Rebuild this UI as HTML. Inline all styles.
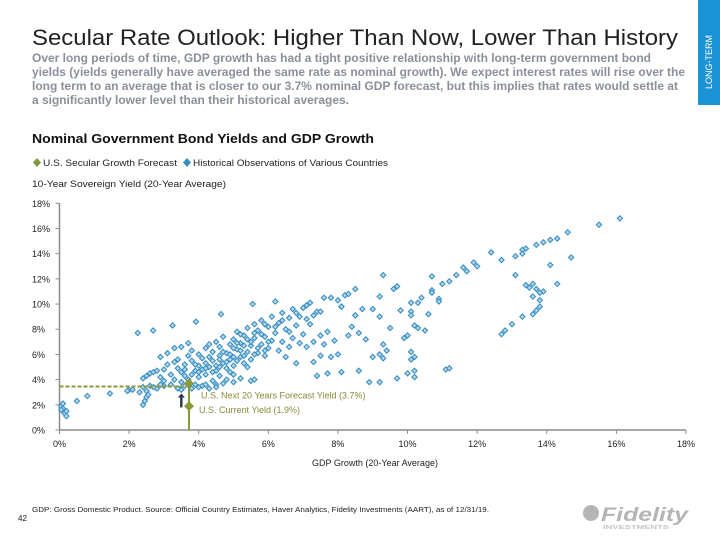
<!DOCTYPE html>
<html><head><meta charset="utf-8"><style>
html,body{margin:0;padding:0;background:#fff;}
svg{display:block;font-family:"Liberation Sans",sans-serif;}
</style></head><body>
<svg id="page" width="720" height="540" viewBox="0 0 720 540">
  <rect x="698" y="0" width="22" height="105" fill="#1a93d6"/>
  <text x="712" y="62" transform="rotate(-90 712 62)" text-anchor="middle" font-size="9" fill="#fff">LONG-TERM</text>

  <text x="32" y="45" font-size="22" fill="#222" textLength="646" lengthAdjust="spacingAndGlyphs">Secular Rate Outlook: Higher Than Now, Lower Than History</text>
  <g font-size="11.5" font-weight="bold" fill="#8a909a">
    <text x="32" y="62" textLength="619" lengthAdjust="spacingAndGlyphs">Over long periods of time, GDP growth has had a tight positive relationship with long-term government bond</text>
    <text x="32" y="76" textLength="653" lengthAdjust="spacingAndGlyphs">yields (yields generally have averaged the same rate as nominal growth). We expect interest rates will rise over the</text>
    <text x="32" y="90" textLength="646" lengthAdjust="spacingAndGlyphs">long term to an average that is closer to our 3.7% nominal GDP forecast, but this implies that rates would settle at</text>
    <text x="32" y="104" textLength="317" lengthAdjust="spacingAndGlyphs">a significantly lower level than their historical averages.</text>
  </g>

  <text x="32" y="143" font-size="13" font-weight="bold" fill="#111" textLength="342" lengthAdjust="spacingAndGlyphs">Nominal Government Bond Yields and GDP Growth</text>

  <g font-size="9" fill="#222">
    <path d="M37 158 L41 162.5 L37 167 L33 162.5Z" fill="#7f9a3a"/>
    <text x="43" y="166" textLength="134" lengthAdjust="spacingAndGlyphs">U.S. Secular Growth Forecast</text>
    <path d="M187 158 L191 162.5 L187 167 L183 162.5Z" fill="#3a8fc4"/>
    <text x="193" y="166" textLength="195" lengthAdjust="spacingAndGlyphs">Historical Observations of Various Countries</text>
  </g>
  <text x="32" y="187" font-size="9" fill="#222" textLength="194" lengthAdjust="spacingAndGlyphs">10-Year Sovereign Yield (20-Year Average)</text>
  <text x="375" y="466" font-size="9" fill="#222" text-anchor="middle">GDP Growth (20-Year Average)</text>

  <g id="axes"></g>
  <g id="points"></g>
  <g id="annot"></g>

  <text x="32" y="512" font-size="7.5" fill="#222" textLength="457" lengthAdjust="spacingAndGlyphs">GDP: Gross Domestic Product. Source: Official Country Estimates, Haver Analytics, Fidelity Investments (AART), as of 12/31/19.</text>
  <text x="18" y="521" font-size="8" fill="#222">42</text>
  <g>
    <circle cx="591" cy="513" r="8" fill="#b5b5b5"/>
    <text x="601" y="521" font-size="19" font-weight="bold" font-style="italic" fill="#b5b5b5" textLength="87" lengthAdjust="spacingAndGlyphs">Fidelity</text>
    <text x="603" y="529" font-size="5" font-weight="bold" fill="#c5c5c5" textLength="66" lengthAdjust="spacingAndGlyphs">INVESTMENTS</text>
  </g>
</svg>
<script>
const xTicks = [0,2,4,6,8,10,12,14,16,18];
const yTicks = [0,2,4,6,8,10,12,14,16,18];
const histGdp = [16.1,15.5,14.6,14.3,14.1,13.9,13.7,13.4,13.3,13.3,13.1,12.7,12.4,11.9,12.0,11.6,11.7,11.4,11.2,11.0,10.7,10.7,10.7,10.9,10.9,10.6,10.4,10.3,10.1,10.1,10.1,10.2,10.3,10.5,10.0,9.9,9.8,9.6,9.7,9.3,9.2,9.2,9.5,9.3,9.4,9.2,9.3,9.0,10.1,10.2,10.1,10.2,10.0,10.2,9.7,9.2,8.9,11.1,11.2,
14.7,14.1,13.1,13.6,13.4,13.5,13.7,13.9,13.8,13.6,13.8,13.8,13.7,13.6,14.3,13.3,13.0,12.8,12.7,
2.3,2.4,2.4,2.45,2.5,2.5,2.55,2.6,2.4,2.5,2.6,2.7,2.8,2.9,3.0,3.0,3.1,3.2,3.3,3.3,3.4,3.4,3.5,3.5,3.6,3.6,3.7,3.7,3.8,3.8,3.9,3.9,4.0,4.0,4.0,4.1,4.1,4.2,4.2,4.3,4.3,4.4,4.4,4.4,4.5,4.5,4.5,4.6,4.6,4.6,4.7,4.7,4.8,4.8,4.8,4.9,4.9,5.0,5.0,5.0,5.1,5.1,5.2,5.2,5.3,5.3,5.4,5.4,5.5,5.5,5.6,5.6,5.7,5.7,5.8,5.8,5.9,5.9,6.0,6.0,6.1,6.1,6.2,6.2,6.3,6.3,6.4,6.4,6.5,6.5,6.6,6.6,6.7,6.7,6.8,6.8,6.9,6.9,7.0,7.0,7.1,7.1,7.2,7.2,7.3,7.3,7.4,7.4,7.5,7.5,7.6,7.6,7.7,7.7,7.8,7.8,7.9,8.0,8.0,8.1,8.1,8.2,8.3,8.3,8.4,8.5,8.5,8.6,8.6,8.7,8.8,
3.4,3.5,3.6,3.8,4.0,4.2,4.3,4.5,4.7,5.0,5.2,5.5,5.6,3.2,3.0,2.9,2.8,2.7,2.0,1.95,2.1,
4.1,4.2,4.3,4.5,4.6,4.7,4.8,4.9,5.0,5.1,5.2,5.3,5.4,5.5,5.6,5.7,5.8,5.9,6.0,3.6,3.8,3.9,4.0,4.2,4.4,5.0,5.1,4.9,4.6,5.3,5.6,5.4,5.2,6.2,6.4,6.6,5.9,6.8,7.1,7.3,
0.05,0.1,0.1,0.15,0.2,0.2,0.05,0.5,0.8,1.45,2.25,2.69,3.25,3.92,4.64,5.55,7.5,8.1,8.5,9.0,3.1,2.9,3.3,3.5,3.7];
const histYield = [16.8,16.3,15.7,15.2,15.1,14.9,14.7,14.4,14.3,14.0,13.8,13.5,14.1,13.3,13.0,12.9,12.6,12.3,11.8,11.6,12.2,11.1,10.9,10.4,10.2,9.2,10.5,10.1,10.1,9.4,9.1,8.3,8.1,7.9,7.5,7.3,9.5,11.2,11.4,12.3,10.6,9.0,8.1,6.8,6.3,6.0,5.7,5.8,6.2,5.8,5.6,4.7,4.5,4.2,4.1,3.8,3.8,4.8,4.9,
13.7,13.1,12.3,11.6,11.5,11.3,11.2,11.0,10.9,10.6,10.3,9.8,9.5,9.2,11.6,9.0,8.4,7.9,7.6,
3.0,3.4,2.0,2.3,2.6,3.1,2.8,3.5,4.1,4.3,4.5,4.6,4.7,4.2,3.9,4.8,5.2,4.4,4.0,5.4,5.6,4.9,4.6,3.8,5.2,4.3,4.0,5.9,6.3,5.5,4.7,3.6,5.1,6.0,4.2,3.5,5.7,6.5,4.4,5.0,6.8,3.9,5.5,6.2,4.7,7.0,3.6,5.9,6.6,4.3,5.3,7.4,6.1,4.9,4.0,6.8,5.6,7.2,5.1,4.4,6.4,7.8,5.8,6.9,5.3,7.5,6.2,8.1,6.7,5.6,7.3,8.4,6.1,7.9,8.7,6.8,7.4,5.9,8.2,6.5,7.1,9.0,7.7,10.2,8.5,6.3,9.3,7.0,8.0,5.8,8.9,6.6,9.6,7.3,8.3,5.3,9.0,6.9,9.7,7.6,9.9,6.6,10.1,8.4,7.0,5.4,9.4,4.3,7.5,5.9,10.5,6.8,7.8,4.5,10.5,5.8,7.1,10.3,6.0,9.8,4.6,10.7,7.5,10.8,8.2,11.2,9.1,4.7,7.7,9.6,7.2,
3.3,3.2,3.5,3.3,3.4,3.6,3.3,3.4,3.7,3.8,4.1,3.9,4.0,3.6,3.5,3.6,3.3,3.4,3.2,3.1,3.2,
4.8,5.3,5.8,5.1,5.6,6.2,5.4,6.0,6.5,5.5,6.3,6.7,5.0,7.0,6.0,6.5,7.6,6.3,7.0,4.8,4.4,5.2,4.6,4.9,4.6,5.8,6.9,4.6,5.0,5.9,7.7,7.2,7.6,8.2,8.7,7.8,8.4,9.3,8.8,9.1,
1.9,1.7,2.1,1.3,1.5,1.1,1.6,2.3,2.7,2.9,7.7,7.9,8.3,8.6,9.2,10.0,9.4,9.8,9.1,9.6,6.1,5.8,6.5,6.6,6.9];
const forecastGdp = [3.72];
const forecastYield = [3.7];
const currentYield = [1.9];
const dashedYield = [3.45];
const arrowFrom = [1.8], arrowTo = [2.9], arrowGdp = [3.5];

const NS = 'http://www.w3.org/2000/svg';
const X0 = 59.5, X1 = 686, Y0 = 430, Y1 = 203.3, MAXV = 18;
function xs(v){ return X0 + v*(X1-X0)/MAXV; }
function ys(v){ return Y0 - v*(Y0-Y1)/MAXV; }
function mk(tag, attrs, parent){ const e=document.createElementNS(NS,tag); for(const k in attrs) e.setAttribute(k,attrs[k]); parent.appendChild(e); return e; }

const axes = document.getElementById('axes');
let yl = mk('line',{x1:X0,y1:Y1,x2:X0,y2:Y0,stroke:'#8c8c8c','stroke-width':1.5},axes);


let xl = mk('line',{x1:X0,y1:Y0,x2:X1,y2:Y0,stroke:'#8c8c8c','stroke-width':1.5},axes);


yTicks.forEach(v=>{
  mk('line',{x1:X0-4,y1:ys(v),x2:X0,y2:ys(v),stroke:'#8c8c8c'},axes);
  const t = mk('text',{x:32,y:ys(v)+3.5,'font-size':9,fill:'#222'},axes);
  t.textContent = v+'%';
  
  
});
xTicks.forEach(v=>{
  mk('line',{x1:xs(v),y1:Y0,x2:xs(v),y2:Y0+4,stroke:'#8c8c8c'},axes);
  const t = mk('text',{x:xs(v),y:447,'font-size':9,fill:'#222','text-anchor':'middle'},axes);
  t.textContent = v+'%';
  
  
});

const pts = document.getElementById('points');
const n = Math.min(histGdp.length, histYield.length);
for(let i=0;i<n;i++){
  const cx=xs(histGdp[i]), cy=ys(histYield[i]);
  const p = mk('path',{d:`M${cx} ${cy-2.6}L${cx+2.6} ${cy}L${cx} ${cy+2.6}L${cx-2.6} ${cy}Z`,fill:'#b9d9ec',stroke:'#3a8fc4','stroke-width':1.1},pts);
  
  
}

const an = document.getElementById('annot');
const fx = xs(forecastGdp[0]);
let dl = mk('line',{x1:X0,y1:ys(dashedYield[0]),x2:fx,y2:ys(dashedYield[0]),stroke:'#8a9a3a','stroke-width':2,'stroke-dasharray':'4,2'},an);


let vl = mk('line',{x1:fx,y1:ys(forecastYield[0]),x2:fx,y2:Y0,stroke:'#7f9a3a','stroke-width':2},an);


const ax = xs(arrowGdp[0]);
let ar = mk('path',{d:`M${ax-1.2} ${ys(arrowFrom[0])}V${ys(arrowTo[0])+4}H${ax-3.5}L${ax} ${ys(arrowTo[0])}L${ax+3.5} ${ys(arrowTo[0])+4}H${ax+1.2}V${ys(arrowFrom[0])}Z`,fill:'#2b3440'},an);


[[forecastYield[0],'forecast-point'],[currentYield[0],'current-point']].forEach(([v,name])=>{
  const cy=ys(v);
  const d = mk('path',{d:`M${fx} ${cy-5}L${fx+5} ${cy}L${fx} ${cy+5}L${fx-5} ${cy}Z`,fill:'#8a9a3a'},an);
  
  
});
let l1 = mk('text',{x:fx+12,y:ys(forecastYield[0])+15,'font-size':9,fill:'#8a8a3a'},an);
l1.textContent = 'U.S. Next 20 Years Forecast Yield (3.7%)';


let l2 = mk('text',{x:fx+10,y:ys(currentYield[0])+7,'font-size':9,fill:'#8a8a3a'},an);
l2.textContent = 'U.S. Current Yield (1.9%)';


</script>
</body></html>
